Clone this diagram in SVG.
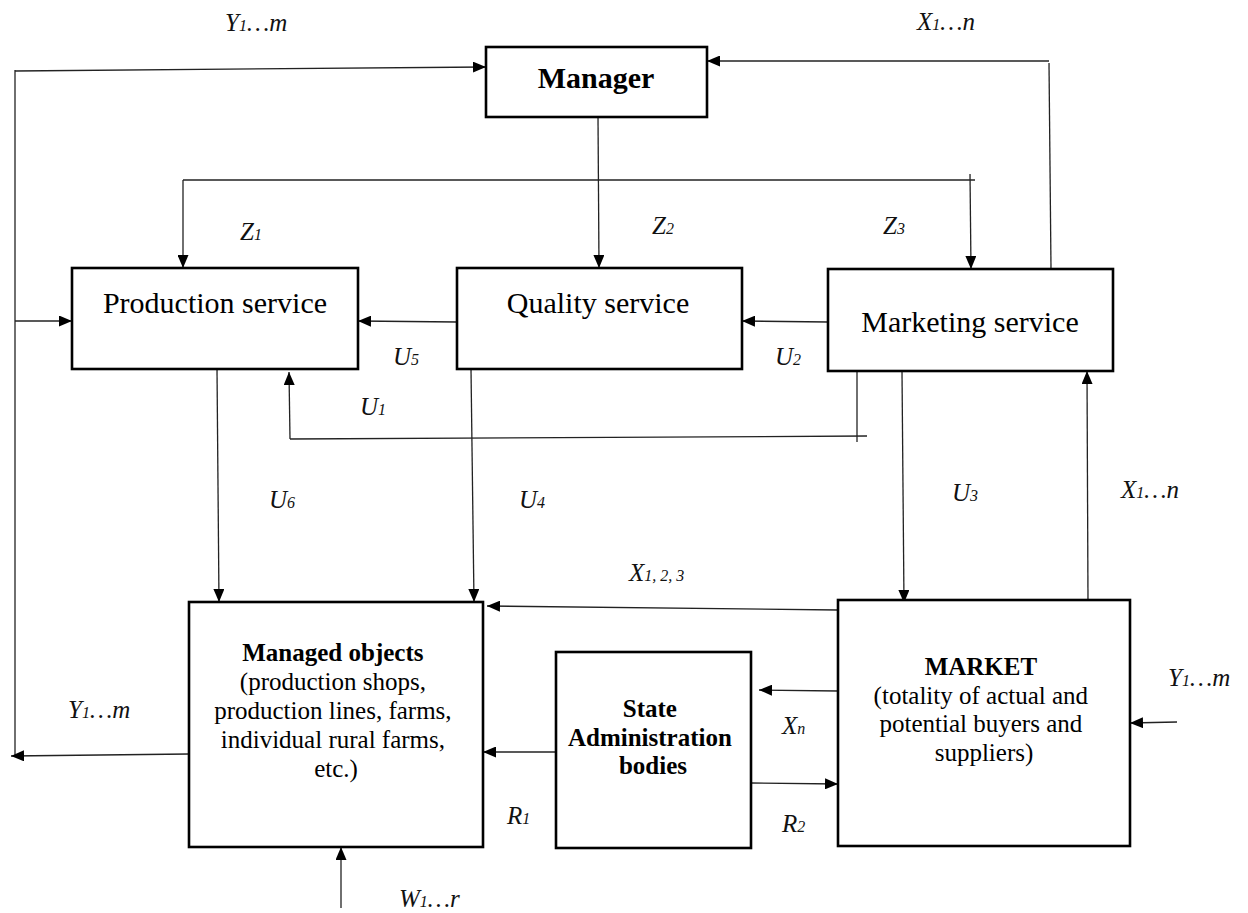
<svg xmlns="http://www.w3.org/2000/svg" width="1248" height="913" viewBox="0 0 1248 913">
<style>
.box{fill:#fff;stroke:#000;stroke-width:2.6}
.ln{fill:none;stroke:#222;stroke-width:1.3}
.t{font-family:"Liberation Serif","Times New Roman",Tinos,"DejaVu Serif",serif;fill:#000}
.big{font-size:30px}
.mid{font-size:25px}
.b{font-weight:bold}
.lab{font-family:"Liberation Serif","Times New Roman",Tinos,"DejaVu Serif",serif;font-style:italic;font-size:25px;fill:#111}
.sub{font-size:16px}
</style>
<defs>
<marker id="ah" markerUnits="userSpaceOnUse" markerWidth="13" markerHeight="11" refX="13" refY="5.5" orient="auto">
<path d="M0,0 L13,5.5 L0,11 z" fill="#000"/>
</marker>
</defs>
<rect width="1248" height="913" fill="#fff"/>

<g id="connectors">
<path class="ln" d="M15,71 L486,67" marker-end="url(#ah)"/>
<path class="ln" d="M15,70 L15,755"/>
<path class="ln" d="M15,321 L72,321" marker-end="url(#ah)"/>
<path class="ln" d="M189,754 L11,756" marker-end="url(#ah)"/>
<path class="ln" d="M1051,268 L1049,63"/>
<path class="ln" d="M1049,61 L707,61" marker-end="url(#ah)"/>
<path class="ln" d="M598,117 L599,268" marker-end="url(#ah)"/>
<path class="ln" d="M183,180 L975,180"/>
<path class="ln" d="M183,180 L183,268" marker-end="url(#ah)"/>
<path class="ln" d="M970,174 L971,269" marker-end="url(#ah)"/>
<path class="ln" d="M457,322 L358,321" marker-end="url(#ah)"/>
<path class="ln" d="M828,322 L742,321" marker-end="url(#ah)"/>
<path class="ln" d="M857,371 L857,442"/>
<path class="ln" d="M867,436 L290,439"/>
<path class="ln" d="M290,439 L289,372" marker-end="url(#ah)"/>
<path class="ln" d="M217,369 L219,602" marker-end="url(#ah)"/>
<path class="ln" d="M471,369 L474,602" marker-end="url(#ah)"/>
<path class="ln" d="M902,372 L904,603" marker-end="url(#ah)"/>
<path class="ln" d="M1088,600 L1087,371" marker-end="url(#ah)"/>
<path class="ln" d="M838,610 L487,606" marker-end="url(#ah)"/>
<path class="ln" d="M838,691 L759,690" marker-end="url(#ah)"/>
<path class="ln" d="M751,783 L838,784" marker-end="url(#ah)"/>
<path class="ln" d="M556,752 L483,752" marker-end="url(#ah)"/>
<path class="ln" d="M1177,722 L1130,723" marker-end="url(#ah)"/>
<path class="ln" d="M341,908 L341,847" marker-end="url(#ah)"/>
</g>

<g id="manager">
<rect class="box" x="486" y="47" width="221" height="70"/>
<text class="t big b" x="596" y="88" text-anchor="middle">Manager</text>
</g>

<g id="production-service">
<rect class="box" x="72" y="268" width="286" height="101"/>
<text class="t big" x="215" y="313" text-anchor="middle">Production service</text>
</g>

<g id="quality-service">
<rect class="box" x="457" y="268" width="285" height="101"/>
<text class="t big" x="598" y="313" text-anchor="middle">Quality service</text>
</g>

<g id="marketing-service">
<rect class="box" x="828" y="269" width="285" height="102"/>
<text class="t big" x="970" y="332" text-anchor="middle">Marketing service</text>
</g>

<g id="managed-objects">
<rect class="box" x="189" y="602" width="294" height="245"/>
<text class="t mid" text-anchor="middle">
<tspan class="b" x="336" y="661">Managed objects</tspan>
<tspan x="336" y="690">(production shops,</tspan>
<tspan x="336" y="719">production lines, farms,</tspan>
<tspan x="336" y="748">individual rural farms,</tspan>
<tspan x="336" y="777">etc.)</tspan>
</text>
</g>

<g id="state-administration">
<rect class="box" x="556" y="652" width="195" height="196"/>
<text class="t mid b" text-anchor="middle">
<tspan x="653" y="717">State</tspan>
<tspan x="653" y="746">Administration</tspan>
<tspan x="653" y="774">bodies</tspan>
</text>
</g>

<g id="market">
<rect class="box" x="838" y="600" width="292" height="246"/>
<text class="t mid" text-anchor="middle">
<tspan class="b" x="984" y="675">MARKET</tspan>
<tspan x="984" y="704">(totality of actual and</tspan>
<tspan x="984" y="732">potential buyers and</tspan>
<tspan x="984" y="761">suppliers)</tspan>
</text>
</g>

<g id="labels">
<text class="lab" x="225" y="31">Y<tspan class="sub">1</tspan>…m</text>
<text class="lab" x="917" y="30">X<tspan class="sub">1</tspan>…n</text>
<text class="lab" x="240" y="240">Z<tspan class="sub">1</tspan></text>
<text class="lab" x="652" y="234">Z<tspan class="sub">2</tspan></text>
<text class="lab" x="883" y="234">Z<tspan class="sub">3</tspan></text>
<text class="lab" x="393" y="365">U<tspan class="sub">5</tspan></text>
<text class="lab" x="775" y="365">U<tspan class="sub">2</tspan></text>
<text class="lab" x="360" y="415">U<tspan class="sub">1</tspan></text>
<text class="lab" x="269" y="508">U<tspan class="sub">6</tspan></text>
<text class="lab" x="519" y="508">U<tspan class="sub">4</tspan></text>
<text class="lab" x="952" y="501">U<tspan class="sub">3</tspan></text>
<text class="lab" x="1121" y="498">X<tspan class="sub">1</tspan>…n</text>
<text class="lab" x="629" y="581">X<tspan class="sub">1, 2, 3</tspan></text>
<text class="lab" x="68" y="718">Y<tspan class="sub">1</tspan>…m</text>
<text class="lab" x="782" y="734">X<tspan class="sub">n</tspan></text>
<text class="lab" x="507" y="824">R<tspan class="sub">1</tspan></text>
<text class="lab" x="782" y="832">R<tspan class="sub">2</tspan></text>
<text class="lab" x="1168" y="686">Y<tspan class="sub">1</tspan>…m</text>
<text class="lab" x="399" y="907">W<tspan class="sub">1</tspan>…r</text>
</g>
</svg>
